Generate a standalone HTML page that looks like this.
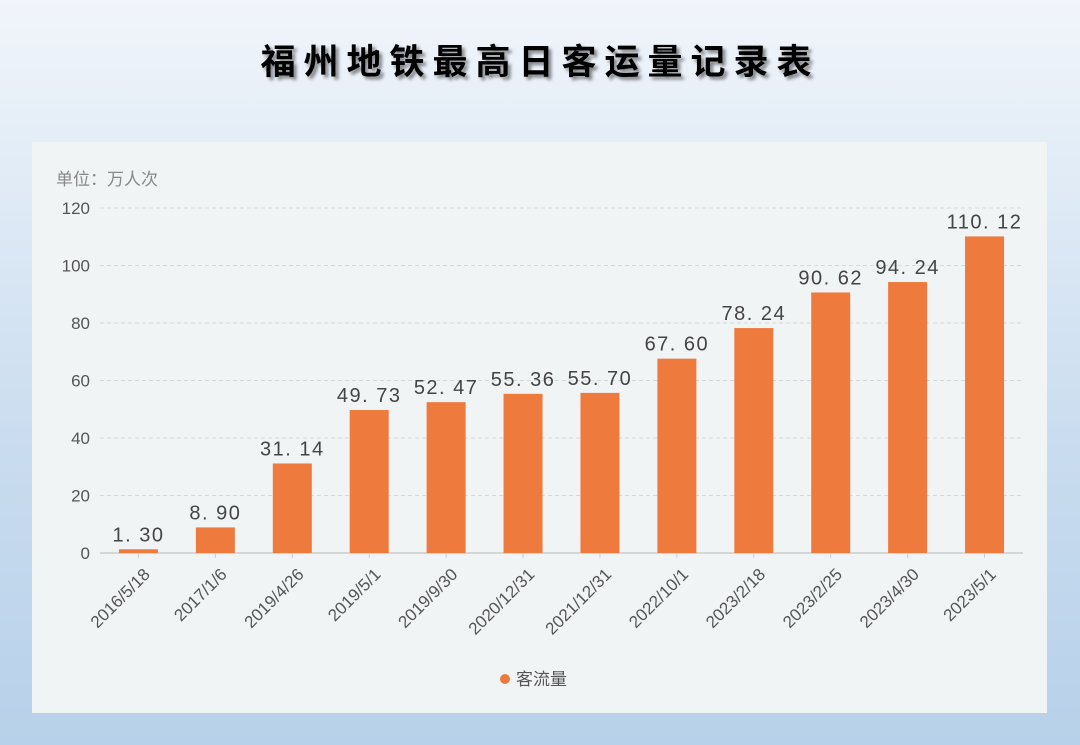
<!DOCTYPE html>
<html><head><meta charset="utf-8"><style>
html,body{margin:0;padding:0}
body{width:1080px;height:745px;overflow:hidden;background:linear-gradient(#f1f5fa 0%,#e3edf7 20%,#c9dcef 60%,#b7d1ea 100%);font-family:"Liberation Sans","Noto Sans CJK SC",sans-serif;position:relative}
#title{position:absolute;left:0;width:1080px;top:34px;text-align:center;font-size:35px;font-weight:bold;letter-spacing:8px;color:#000;text-shadow:3px 3px 3px rgba(0,0,0,0.45);font-family:"Noto Sans CJK SC",sans-serif}
#panel{position:absolute;left:32px;top:142px;width:1015px;height:571px;background:#f1f4f5}
svg{position:absolute;left:0;top:0}
</style></head><body>
<div id="title">福州地铁最高日客运量记录表</div>
<div id="panel"></div>
<svg id="chart" width="1080" height="745"></svg>
<script>
const categories=["2016/5/18","2017/1/6","2019/4/26","2019/5/1","2019/9/30","2020/12/31","2021/12/31","2022/10/1","2023/2/18","2023/2/25","2023/4/30","2023/5/1"];
const values=[1.30,8.90,31.14,49.73,52.47,55.36,55.70,67.60,78.24,90.62,94.24,110.12];
const yTicks=[0,20,40,60,80,100,120];
const ns="http://www.w3.org/2000/svg";
const svg=document.getElementById('chart');
const x0=100,x1=1023,y0=553,y1=208,yMax=120;
const step=(x1-x0)/categories.length;
const bw=39;
function y(v){return y0-(v/yMax)*(y0-y1);}
function xc(i){return x0+step*(i+0.5);}
function mk(t,a,txt){const e=document.createElementNS(ns,t);for(const k in a)e.setAttribute(k,a[k]);if(txt!==undefined)e.textContent=txt;svg.appendChild(e);return e;}
let u=mk('text',{x:56,y:185,'font-size':17,fill:'#888','font-family':'"Liberation Sans","Noto Sans CJK SC",sans-serif'},'单位：万人次');


yTicks.forEach(t=>{
  if(t>0){const g=mk('line',{x1:x0,x2:x1,y1:y(t),y2:y(t),stroke:'#d6d9dc','stroke-dasharray':'4 3'});
  
  }
  const l=mk('text',{x:90,y:y(t)+6,'font-size':17,fill:'#555','text-anchor':'end'},t);
  
  
});
const ax=mk('line',{x1:x0,x2:x1,y1:y0,y2:y0,stroke:'#ccc','stroke-width':1.5});


categories.forEach((c,i)=>{
  const cx=xc(i);
  const b=mk('rect',{x:cx-bw/2,y:y(values[i]),width:bw,height:y0-y(values[i]),fill:'#ee7a3e'});
  
  
  const v=mk('text',{x:cx,y:y(values[i])-8,'font-size':20,fill:'#444','text-anchor':'middle','letter-spacing':'1.5'},values[i].toFixed(2).replace('.','. '));
  
  
  const tk=mk('line',{x1:cx,x2:cx,y1:y0,y2:y0+5,stroke:'#ccc'});
  
  
  const l=mk('text',{x:cx+4,y:y0+14,'font-size':17,fill:'#555','text-anchor':'end',transform:`rotate(-45 ${cx+4} ${y0+14})`,'dominant-baseline':'hanging'},c);
  
  
});
const lc=mk('circle',{cx:505,cy:679,r:5,fill:'#ee7a3e'});


const lt=mk('text',{x:516,y:685,'font-size':17,fill:'#555'},'客流量');


</script>
</body></html>
